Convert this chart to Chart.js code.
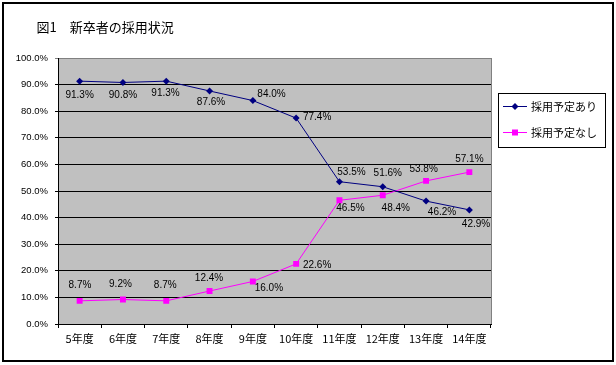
<!DOCTYPE html>
<html lang="ja">
<head>
<meta charset="utf-8">
<title>図1 新卒者の採用状況</title>
<script src="https://cdn.jsdelivr.net/npm/chart.js@4/dist/chart.umd.min.js"></script>
<style>
  html, body { margin: 0; padding: 0; background: #fff; }
  #chart { display: block; }
</style>
</head>
<body>
<canvas id="chart" width="616" height="365"></canvas>
<script>
// データ
const titulo = "図1　新卒者の採用状況";
const categorias = ["5年度", "6年度", "7年度", "8年度", "9年度", "10年度", "11年度", "12年度", "13年度", "14年度"];
const nomeSerie1 = "採用予定あり";
const nomeSerie2 = "採用予定なし";
const valoresSerie1 = [91.3, 90.8, 91.3, 87.6, 84.0, 77.4, 53.5, 51.6, 46.2, 42.9];
const valoresSerie2 = [8.7, 9.2, 8.7, 12.4, 16.0, 22.6, 46.5, 48.4, 53.8, 57.1];
const ticksY = [0, 10, 20, 30, 40, 50, 60, 70, 80, 90, 100];

// posição dos rótulos (dx, dy em relação ao ponto)
const offsetsSerie1 = [[0, 14], [0, 12.5], [-0.7, 12.6], [1.5, 11], [18.7, -6.7], [21, -1], [12, -9], [5, -13], [16, 11.5], [6.7, 14.5]];
const offsetsSerie2 = [[0.3, -16], [-2.5, -15.5], [-1, -16], [-0.5, -12.7], [16, 7], [21, 1], [11, 8], [13, 13], [-2.4, -11.6], [0, -13]];

const COR1 = "#000080";
const COR2 = "#FF00FF";
const FONTE_JP = "'Noto Sans CJK JP', 'Noto Sans', sans-serif";
const FONTE_NUM = "'Liberation Sans', Arial, sans-serif";

const fundoPlugin = {
  id: "fundo",
  beforeDraw(chart) {
    const { ctx, chartArea: a } = chart;
    ctx.save();
    ctx.fillStyle = "#fff";
    ctx.fillRect(0, 0, chart.width, chart.height);
    ctx.fillStyle = "#C0C0C0";
    ctx.fillRect(a.left, a.top, a.right - a.left, a.bottom - a.top);
    ctx.restore();
  },
  afterDraw(chart) {
    const { ctx, chartArea: a } = chart;
    ctx.save();
    // borda direita da área do gráfico
    ctx.strokeStyle = "#808080";
    ctx.lineWidth = 1;
    ctx.beginPath();
    ctx.moveTo(a.right + 0.5, a.top);
    ctx.lineTo(a.right + 0.5, a.bottom);
    ctx.stroke();
    // moldura externa
    ctx.strokeStyle = "#000";
    ctx.lineWidth = 2;
    ctx.strokeRect(3, 3, 610, 358);
    // título
    ctx.fillStyle = "#000";
    ctx.font = "13px " + FONTE_JP;
    ctx.textAlign = "left";
    ctx.textBaseline = "middle";
    ctx.fillText(titulo, 36.5, 27.5);
    ctx.restore();
  },
};

function desenharMarcador(ctx, estilo, x, y, cor) {
  ctx.fillStyle = cor;
  ctx.beginPath();
  if (estilo === "rectRot") {
    const r = 3.5;
    ctx.moveTo(x, y - r);
    ctx.lineTo(x + r, y);
    ctx.lineTo(x, y + r);
    ctx.lineTo(x - r, y);
    ctx.closePath();
  } else {
    ctx.rect(x - 3, y - 3, 6, 6);
  }
  ctx.fill();
}

const legendaPlugin = {
  id: "legendaExcel",
  afterDraw(chart) {
    const ctx = chart.ctx;
    ctx.save();
    ctx.strokeStyle = "#000";
    ctx.lineWidth = 1;
    ctx.strokeRect(498.5, 93.5, 107, 54);
    chart.data.datasets.forEach((ds, i) => {
      const y = 106 + i * 26;
      ctx.strokeStyle = ds.borderColor;
      ctx.lineWidth = 1;
      ctx.beginPath();
      ctx.moveTo(503, y + 0.5);
      ctx.lineTo(527, y + 0.5);
      ctx.stroke();
      desenharMarcador(ctx, ds.pointStyle, 515, y + 0.5, ds.borderColor);
      ctx.fillStyle = "#000";
      ctx.font = "11px " + FONTE_JP;
      ctx.textAlign = "left";
      ctx.textBaseline = "middle";
      ctx.fillText(ds.label, 531, y + 1);
    });
    ctx.restore();
  },
};

const rotulosPlugin = {
  id: "rotulos",
  afterDatasetsDraw(chart) {
    const ctx = chart.ctx;
    ctx.save();
    ctx.fillStyle = "#000";
    ctx.font = "10px " + FONTE_NUM;
    ctx.textAlign = "center";
    ctx.textBaseline = "middle";
    chart.data.datasets.forEach((ds, i) => {
      const meta = chart.getDatasetMeta(i);
      meta.data.forEach((pt, j) => {
        const off = ds.offsets[j];
        ctx.fillText(ds.data[j].toFixed(1) + "%", pt.x + off[0], pt.y + off[1]);
      });
    });
    ctx.restore();
  },
};

new Chart(document.getElementById("chart").getContext("2d"), {
  type: "line",
  data: {
    labels: categorias,
    datasets: [
      {
        label: nomeSerie1,
        data: valoresSerie1,
        offsets: offsetsSerie1,
        borderColor: COR1,
        backgroundColor: COR1,
        borderWidth: 1,
        pointStyle: "rectRot",
        pointRadius: 3.5,
        pointBorderWidth: 0,
        tension: 0,
      },
      {
        label: nomeSerie2,
        data: valoresSerie2,
        offsets: offsetsSerie2,
        borderColor: COR2,
        backgroundColor: COR2,
        borderWidth: 1,
        pointStyle: "rect",
        pointRadius: 4.2,
        pointBorderWidth: 0,
        tension: 0,
      },
    ],
  },
  options: {
    responsive: false,
    animation: false,
    layout: { padding: { top: 58, right: 125, bottom: 0, left: 0 } },
    plugins: {
      legend: { display: false },
      tooltip: { enabled: false },
    },
    scales: {
      x: {
        offset: true,
        grid: {
          offset: true,
          drawOnChartArea: false,
          drawTicks: true,
          tickLength: 4,
          color: "#000",
        },
        border: { color: "#000", width: 1 },
        ticks: {
          color: "#000",
          padding: 4,
          maxRotation: 0,
          autoSkip: false,
          font: { family: FONTE_JP, size: 11 },
        },
        afterFit(scale) {
          scale.height = 41;
        },
      },
      y: {
        min: 0,
        max: 100,
        afterBuildTicks(scale) {
          scale.ticks = ticksY.map((v) => ({ value: v }));
        },
        grid: {
          color: (c) => (c.tick && c.tick.value === 100 ? "#808080" : "#000"),
          tickLength: 3,
          drawTicks: true,
        },
        border: { color: "#000", width: 1 },
        ticks: {
          color: "#000",
          padding: 7,
          font: { family: FONTE_NUM, size: 9.5 },
          callback: (v) => Number(v).toFixed(1) + "%",
        },
        afterFit(scale) {
          scale.width = 58;
        },
      },
    },
  },
  plugins: [fundoPlugin, rotulosPlugin, legendaPlugin],
});
</script>
</body>
</html>
